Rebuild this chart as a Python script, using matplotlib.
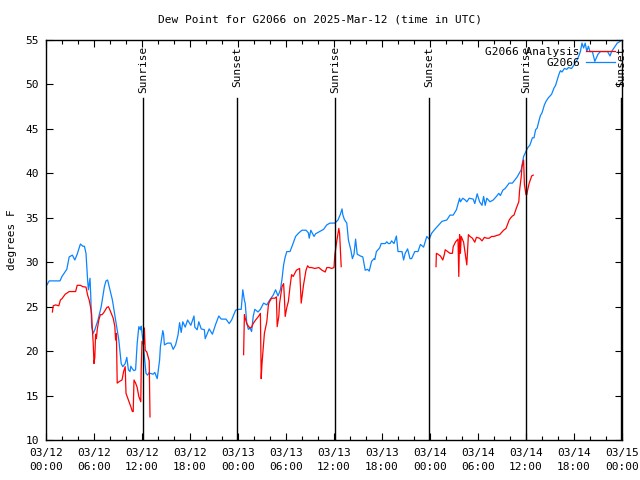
import numpy as np
import matplotlib
matplotlib.use("Agg")
import matplotlib.pyplot as plt
from matplotlib.ticker import MultipleLocator

plt.rcParams['font.family'] = ['DejaVu Sans Mono']
plt.rcParams['font.size'] = 8

# hours since 2025-03-12 00:00 UTC
obs_hours = [0.08, 0.4, 1.75, 2.0, 2.6, 2.9, 3.3, 3.6, 3.9, 4.3, 4.6, 4.8, 5.0, 5.2, 5.3,
             5.5, 5.6, 5.7, 5.9, 6.1, 6.5, 6.9, 7.3, 7.5, 7.7, 7.9, 8.3, 8.7, 9.1, 9.4,
             9.6, 9.9, 10.1, 10.3, 10.5, 10.6, 10.8, 11.0, 11.2, 11.4, 11.6, 11.8, 11.9,
             12.1, 12.3, 12.4, 12.5, 12.7, 12.9, 13.0, 13.4, 13.6, 13.9, 14.2, 14.3, 14.6,
             14.7, 14.8, 15.2, 15.6, 15.9, 16.2, 16.5, 16.7, 16.9, 17.1, 17.4, 17.7, 18.1,
             18.5, 18.6, 18.9, 19.1, 19.4, 19.8, 19.9, 20.4, 20.8, 21.2, 21.6, 21.9, 22.5,
             22.9, 23.2, 23.7, 24.0, 24.4, 24.6, 24.8, 24.9, 25.1, 25.3, 25.5, 25.7, 25.9,
             26.1, 26.5, 26.8, 27.2, 27.6, 28.0, 28.4, 28.7, 29.0, 29.3, 29.5, 29.7, 29.9,
             30.1, 30.5, 30.8, 31.2, 31.6, 32.0, 32.5, 32.8, 32.9, 33.1, 33.5, 33.7, 34.1,
             34.7, 35.1, 35.5, 36.1, 36.5, 36.8, 37.0, 37.1, 37.3, 37.6, 37.8, 38.1, 38.3,
             38.5, 38.7, 38.9, 39.3, 39.6, 39.9, 40.2, 40.4, 40.7, 41.0, 41.1, 41.3, 41.7,
             41.9, 42.4, 42.6, 42.8, 43.0, 43.2, 43.5, 43.8, 44.0, 44.5, 44.7, 44.9, 45.2,
             45.5, 45.7, 46.1, 46.5, 46.8, 47.2, 47.6, 47.9, 48.2, 48.6, 49.0, 49.5, 50.1,
             50.5, 50.9, 51.3, 51.7, 51.8, 52.1, 52.4, 52.6, 52.9, 53.4, 53.6, 53.9, 54.2,
             54.5, 54.7, 54.9, 55.1, 55.5, 55.9, 56.3, 56.6, 56.8, 57.1, 57.4, 57.9, 58.3,
             58.9, 59.4, 59.7, 60.2, 60.5, 60.8, 61.0, 61.2, 61.4, 61.6, 61.8, 62.0, 62.3,
             62.5, 62.8, 63.2, 63.5, 63.7, 63.9, 64.1, 64.3, 64.5, 64.8, 65.1, 65.3, 65.7,
             66.0, 66.4, 66.6, 66.8, 67.0, 67.2, 67.4, 67.6, 67.8, 68.0, 68.3, 68.6, 68.8,
             69.0, 69.3, 69.7, 70.2, 70.5, 70.7, 71.0, 71.4, 71.7, 72.0]
obs_dewpt = [27.4, 27.9, 27.9, 28.4, 29.2, 30.6, 30.8, 30.25, 30.9, 32.05, 31.8, 31.8, 31.0,
             28.0, 26.9, 28.2, 26.1, 22.75, 22.0, 22.4, 23.5, 25.0, 27.25, 27.9, 28.0, 27.25,
             25.75, 23.5, 21.25, 18.6, 18.25, 18.6, 19.3, 17.9, 17.7, 18.3, 18.0, 17.8, 17.9,
             20.9, 22.75, 22.4, 22.8, 21.25, 19.4, 18.6, 17.5, 17.3, 17.6, 17.5, 17.4, 17.6,
             16.9, 19.0, 20.5, 22.3, 21.9, 20.7, 20.9, 20.9, 20.2, 20.7, 21.8, 23.2, 22.1,
             23.3, 22.7, 23.5, 22.9, 23.95, 22.7, 22.4, 23.3, 22.5, 22.4, 21.4, 22.5, 21.9,
             23.0, 23.95, 23.6, 23.6, 23.1, 23.5, 24.6, 24.7, 24.7, 26.9, 25.7, 25.4, 23.1,
             22.45, 22.6, 22.2, 23.9, 24.7, 24.4, 24.7, 25.4, 25.2, 25.8, 26.3, 26.9, 26.2,
             26.9, 28.1, 29.7, 30.6, 31.2, 31.2, 31.9, 32.9, 33.3, 33.6, 33.6, 33.3, 32.7,
             33.6, 32.9, 33.2, 33.4, 33.7, 34.2, 34.4, 34.4, 34.75, 35.4, 36.0, 35.35, 34.8,
             34.4, 32.5, 31.4, 30.4, 30.9, 32.6, 30.9, 30.7, 30.6, 29.1, 29.2, 29.0, 30.1,
             30.4, 30.3, 31.2, 31.6, 32.1, 32.1, 32.3, 32.1, 32.1, 32.4, 32.1, 32.95, 31.2,
             31.2, 30.25, 31.0, 31.5, 30.4, 30.4, 31.2, 31.2, 32.0, 31.7, 32.9, 32.6, 33.25,
             33.7, 34.1, 34.6, 34.75, 35.3, 35.3, 35.9, 37.2, 36.8, 37.2, 37.0, 36.8, 37.2,
             37.1, 36.6, 37.7, 36.8, 36.4, 37.4, 36.4, 37.2, 36.8, 37.0, 37.4, 37.75, 37.5,
             38.1, 38.3, 38.9, 38.9, 39.6, 40.4, 41.9, 42.85, 43.2, 44.0, 44.0, 44.9, 45.1,
             45.85, 46.5, 46.8, 47.7, 48.1, 48.5, 48.9, 49.6, 49.9, 50.5, 51.1, 51.55, 51.4,
             51.8, 51.7, 51.9, 51.8, 52.2, 52.8, 53.2, 53.7, 54.65, 54.1, 54.65, 53.7, 54.3,
             53.7, 53.7, 52.6, 53.0, 53.4, 53.7, 53.7, 53.7, 53.2, 53.7, 54.1, 54.65, 54.8,
             55.0]

# analysis series, NaN marks the gaps
ana_hours = [0.8, 0.9, 1.2, 1.6, 1.8, 2.0, 2.4, 2.9, 3.3, 3.7, 3.9, 4.3, 4.6, 5.0, 5.2, 5.4,
             5.6, 5.7, 5.8, 5.9, 6.0, 6.1, 6.2, 6.3, 6.4, 6.6, 6.8, 7.0, 7.2, 7.4, 7.6, 7.8,
             8.0, 8.4, 8.6, 8.7, 8.8, 8.9, 9.2, 9.5, 9.7, 9.9, 10.0, 10.3, 10.6, 10.8, 10.9,
             11.0, 11.2, 11.4, 11.6, 11.85, 11.9, 12.0, 12.2, 12.3, 12.4, 12.6, 12.8, 12.9,
             13.0, 18.0,
             24.7, 24.8, 24.9, 25.1, 25.3, 25.5, 25.7, 25.9, 26.2, 26.6, 26.8, 26.9, 27.0,
             27.2, 27.3, 27.6, 27.8, 27.9, 28.2, 28.6, 28.8, 28.9, 29.1, 29.2, 29.5, 29.7,
             29.8, 29.9, 30.1, 30.3, 30.5, 30.7, 30.9, 31.1, 31.3, 31.7, 31.8, 31.9, 32.1,
             32.2, 32.5, 32.7, 32.9, 33.2, 33.6, 34.1, 34.5, 34.9, 35.1, 35.4, 35.7, 36.0,
             36.1, 36.3, 36.5, 36.6, 36.7, 36.9, 42.0,
             48.75, 48.8, 49.0, 49.3, 49.6, 49.8, 49.9, 50.2, 50.5, 50.8, 50.9, 51.2, 51.5,
             51.6, 51.7, 51.8, 51.9, 52.2, 52.4, 52.6, 52.8, 53.0, 53.3, 53.6, 53.8, 54.2,
             54.5, 54.8, 55.1, 55.4, 55.7, 56.0, 56.3, 56.7, 57.0, 57.2, 57.5, 57.9, 58.1,
             58.3, 58.5, 58.8, 59.1, 59.2, 59.4, 59.5, 59.7, 59.8, 60.0, 60.1, 60.2, 60.4,
             60.6, 60.7, 60.9]
ana_dewpt = [24.4, 25.1, 25.2, 25.1, 25.75, 25.9, 26.4, 26.7, 26.7, 26.7, 27.4, 27.4, 27.25,
             27.2, 26.3, 25.75, 24.8, 24.2, 22.4, 20.9, 18.6, 19.3, 21.9, 21.4, 22.4, 23.5,
             24.1, 24.1, 24.3, 24.6, 24.9, 25.0, 24.6, 23.7, 22.8, 21.25, 22.0, 16.4, 16.6,
             16.75, 17.7, 18.25, 15.25, 14.5, 13.75, 13.2, 13.2, 16.75, 16.4, 15.9, 14.9,
             14.3, 17.9, 21.1, 20.75, 22.6, 20.1, 19.9, 19.2, 18.9, 12.6, np.nan,
             19.6, 24.1, 23.7, 23.1, 22.8, 22.6, 22.7, 23.1, 23.5, 23.95, 24.25, 16.9, 18.6,
             20.9, 22.0, 23.3, 25.2, 25.5, 25.95, 25.95, 26.1, 22.75, 23.9, 25.4, 27.25,
             27.6, 26.0, 23.9, 24.9, 25.6, 27.25, 28.6, 28.4, 28.75, 29.1, 29.3, 27.25, 25.4,
             26.8, 27.5, 29.1, 29.6, 29.4, 29.4, 29.3, 29.4, 29.1, 28.9, 29.4, 29.4, 29.3,
             29.4, 30.8, 32.1, 33.25, 33.8, 33.25, 29.5, np.nan,
             29.5, 31.0, 30.9, 30.7, 30.25, 30.9, 31.4, 31.2, 31.0, 31.0, 31.75, 32.3, 32.6,
             28.4, 33.1, 31.0, 32.9, 32.25, 31.0, 29.7, 33.1, 32.9, 32.7, 32.25, 32.8, 32.7,
             32.4, 32.8, 32.7, 32.7, 32.9, 32.9, 33.0, 33.1, 33.4, 33.6, 33.8, 34.75, 35.0,
             35.2, 35.3, 36.1, 36.8, 38.1, 39.6, 40.75, 41.5, 38.75, 37.6, 37.6, 38.1, 38.9,
             39.4, 39.7, 39.8]

sun_hours = [12.1, 23.9, 36.1, 47.9, 60.0, 71.9]
sun_labels = ['Sunrise', 'Sunset', 'Sunrise', 'Sunset', 'Sunrise', 'Sunset']

tick_hours = list(range(0, 73, 6))
tick_labels = ['03/12\n00:00', '03/12\n06:00', '03/12\n12:00', '03/12\n18:00',
               '03/13\n00:00', '03/13\n06:00', '03/13\n12:00', '03/13\n18:00',
               '03/14\n00:00', '03/14\n06:00', '03/14\n12:00', '03/14\n18:00',
               '03/15\n00:00']

fig = plt.figure(figsize=(6.4, 4.8), dpi=100)
ax = fig.add_axes([46 / 640, 1 - 440 / 480, 576 / 640, 400 / 480])

blue, = ax.plot(obs_hours, obs_dewpt, color='#0a84ff', lw=0.9, label='G2066')
red, = ax.plot(ana_hours, ana_dewpt, color='#ff0000', lw=0.9, label='G2066 Analysis')

for h, lab in zip(sun_hours, sun_labels):
    ax.plot([h, h], [10, 48.5], color='black', lw=1.0)
    ax.text(h, 54.3, lab, rotation=90, ha='center', va='top', fontsize=8)

ax.set_xlim(0, 72)
ax.set_ylim(10, 55)
ax.set_xticks(tick_hours)
ax.set_xticklabels(tick_labels, linespacing=1.5)
ax.xaxis.set_minor_locator(MultipleLocator(2))
ax.yaxis.set_major_locator(MultipleLocator(5))
ax.tick_params(which='both', direction='in', top=True, right=True, width=0.8)
ax.tick_params(which='major', length=5)
ax.tick_params(axis='x', which='major', pad=6)
ax.tick_params(axis='y', which='major', pad=5)
ax.tick_params(which='minor', length=3)
for s in ax.spines.values():
    s.set_linewidth(1.0)

ax.set_ylabel('degrees F', labelpad=6)
fig.text(0.5, 1 - 19 / 480, 'Dew Point for G2066 on 2025-Mar-12 (time in UTC)',
         ha='center', va='center', fontsize=8)

ax.legend(handles=[red, blue], loc='upper right', frameon=False, markerfirst=False,
          handlelength=2.6, handletextpad=0.6, labelspacing=0.15,
          borderaxespad=0.2, fontsize=8)

fig.savefig('out.png', dpi=100)
